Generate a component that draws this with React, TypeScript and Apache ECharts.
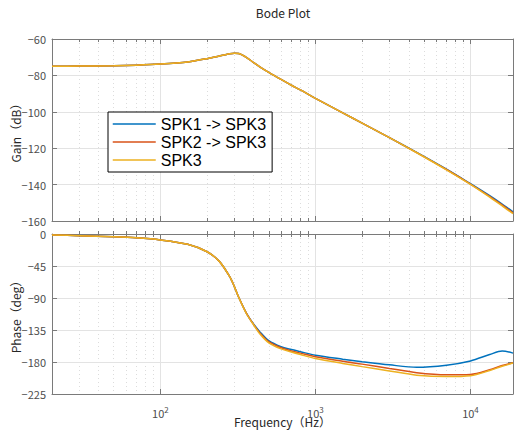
import React, { useEffect, useRef } from "react";
import * as echarts from "echarts";

const FONT = "'Noto Sans CJK JP', 'Noto Sans', sans-serif";
const LEGEND_FONT = "'Liberation Sans', Arial, sans-serif";

const freqs = [20, 30, 50, 70, 100, 150, 200, 240, 280, 300, 320, 360, 400, 440, 500, 600, 700, 800, 1000, 1500, 2000, 3000, 4500, 7000, 10000, 13300, 16000, 18800];

const gainSpk1 = [-75, -74.9, -74.7, -74.4, -73.8, -72.6, -70.8, -69.3, -68.1, -67.8, -68.0, -70.2, -73.0, -75.4, -78.3, -82.2, -85.4, -88.0, -92.6, -100.6, -106.2, -114.2, -122.3, -131.5, -139.5, -146.1, -150.7, -155.0];
const gainSpk2 = [-75, -74.9, -74.7, -74.4, -73.8, -72.6, -70.8, -69.3, -68.1, -67.8, -68.0, -70.2, -73.0, -75.4, -78.3, -82.2, -85.4, -88.0, -92.6, -100.6, -106.2, -114.2, -122.4, -131.7, -139.7, -146.5, -151.2, -155.5];
const gainSpk3 = [-75, -74.9, -74.7, -74.4, -73.8, -72.6, -70.8, -69.3, -68.1, -67.8, -68.0, -70.2, -73.0, -75.4, -78.3, -82.2, -85.4, -88.0, -92.6, -100.6, -106.2, -114.2, -122.5, -131.9, -139.9, -146.9, -151.7, -156.0];

const phaseSpk1 = [-1.5, -2.3, -3.8, -5.3, -8.3, -14.5, -25, -38.5, -60, -74, -89, -112, -127, -138, -150, -158.5, -162.5, -165.5, -170.5, -176, -179.5, -184, -187.5, -184.5, -178.5, -169.5, -164.5, -167.5];
const phaseSpk2 = [-1.5, -2.3, -3.8, -5.3, -8.3, -14.5, -25, -38.5, -60, -74, -89, -112, -127.5, -139.5, -151.5, -160, -164.5, -167.5, -172.5, -179, -183, -189, -195, -198, -197.5, -191, -185, -181];
const phaseSpk3 = [-1.5, -2.3, -3.8, -5.3, -8.3, -14.5, -25, -38.5, -60, -74, -89, -112.5, -128, -141, -153, -161.5, -166, -169.5, -175, -182, -186.5, -192.5, -198.5, -200.5, -199.3, -192, -186, -181.5];

const seriesNames = ["SPK1 -> SPK3", "SPK2 -> SPK3", "SPK3"];
const seriesColors = ["#0072BD", "#D95319", "#EDB120"];

const majorExponents = [2, 3, 4];
const minorFreqs = [30, 40, 50, 60, 70, 80, 90, 200, 300, 400, 500, 600, 700, 800, 900, 2000, 3000, 4000, 5000, 6000, 7000, 8000, 9000];

const X_MIN = Math.log10(20);
const X_MAX = Math.log10(18800);

const AXIS_COLOR = "#7a7a7a";
const LABEL_COLOR = "#4d4d4d";

function xAxesFor(gridIndex: number, withLabels: boolean) {
  const base = { type: "value", gridIndex, min: X_MIN, max: X_MAX, scale: true };
  const minorVals = minorFreqs.map((f) => Math.log10(f));
  return [
    {
      ...base,
      position: "bottom",
      axisLine: { show: true, onZero: false, lineStyle: { color: AXIS_COLOR, width: 1 } },
      axisTick: { show: true, inside: true, length: 5, customValues: majorExponents, lineStyle: { color: AXIS_COLOR } },
      axisLabel: withLabels
        ? {
            show: true,
            customValues: majorExponents,
            margin: 11,
            formatter: (v: number) => `{b|10}{s|${Math.round(v)}}`,
            rich: {
              b: { fontSize: 11, color: LABEL_COLOR, fontFamily: FONT },
              s: { fontSize: 8, color: LABEL_COLOR, fontFamily: FONT, padding: [0, 0, 8, 0] },
            },
          }
        : { show: false },
      splitLine: { show: true, lineStyle: { color: "#e3e3e3", width: 1, type: "solid" } },
      name: withLabels ? "Frequency（Hz）" : "",
      nameLocation: "middle",
      nameGap: 21,
      nameMoveOverlap: false,
      nameTextStyle: { fontSize: 12, color: "#262626", fontFamily: FONT },
      z: 1,
    },
    {
      ...base,
      position: "top",
      axisLine: { show: true, onZero: false, lineStyle: { color: AXIS_COLOR, width: 1 } },
      axisTick: { show: true, inside: true, length: 5, customValues: majorExponents, lineStyle: { color: AXIS_COLOR } },
      axisLabel: { show: false },
      splitLine: { show: false },
      z: 1,
    },
    {
      ...base,
      position: "bottom",
      axisLine: { show: false },
      axisTick: { show: true, inside: true, length: 3, customValues: minorVals, lineStyle: { color: AXIS_COLOR } },
      axisLabel: { show: false },
      splitLine: { show: true, lineStyle: { color: "#dcdcdc", width: 1, type: [1, 3] } },
      z: 0,
    },
    {
      ...base,
      position: "top",
      axisLine: { show: false },
      axisTick: { show: true, inside: true, length: 3, customValues: minorVals, lineStyle: { color: AXIS_COLOR } },
      axisLabel: { show: false },
      splitLine: { show: false },
      z: 0,
    },
  ];
}

function yAxesFor(gridIndex: number, min: number, max: number, interval: number, name: string) {
  return [
    {
      type: "value",
      gridIndex,
      min,
      max,
      interval,
      position: "left",
      axisLine: { show: true, onZero: false, lineStyle: { color: AXIS_COLOR, width: 1 } },
      axisTick: { show: true, inside: true, length: 5, lineStyle: { color: AXIS_COLOR } },
      axisLabel: {
        fontSize: 11,
        color: LABEL_COLOR,
        fontFamily: FONT,
        margin: 6,
        formatter: (v: number) => String(v).replace("-", "\u2212"),
      },
      splitLine: { show: true, lineStyle: { color: "#e3e3e3", width: 1 } },
      name,
      nameLocation: "middle",
      nameGap: 31,
      nameMoveOverlap: false,
      nameTextStyle: { fontSize: 12, color: "#262626", fontFamily: FONT },
      z: 1,
    },
    {
      type: "value",
      gridIndex,
      min,
      max,
      interval,
      position: "right",
      axisLine: { show: true, onZero: false, lineStyle: { color: AXIS_COLOR, width: 1 } },
      axisTick: { show: true, inside: true, length: 5, lineStyle: { color: AXIS_COLOR } },
      axisLabel: { show: false },
      splitLine: { show: false },
      z: 1,
    },
  ];
}

export default function App() {
  const ref = useRef<HTMLDivElement>(null);
  useEffect(() => {
    if (!ref.current) return;
    const chart = echarts.init(ref.current, null, { renderer: "svg" });
    const gains = [gainSpk1, gainSpk2, gainSpk3];
    const phases = [phaseSpk1, phaseSpk2, phaseSpk3];
    const mk = (vals: number[], idx: number, xAxisIndex: number, yAxisIndex: number) => ({
      type: "line",
      name: seriesNames[idx],
      xAxisIndex,
      yAxisIndex,
      data: freqs.map((f, i) => [Math.log10(f), vals[i]]),
      showSymbol: false,
      symbol: "none",
      smooth: 0.3,
      color: seriesColors[idx],
      lineStyle: { color: seriesColors[idx], width: 1.5 },
      z: 10,
    });
    const series: any[] = [];
    gains.forEach((g, i) => series.push(mk(g, i, 0, 0)));
    phases.forEach((p, i) => series.push(mk(p, i, 4, 2)));

    chart.setOption({
      animation: false,
      backgroundColor: "#ffffff",
      textStyle: { fontFamily: FONT },
      graphic: [
        {
          type: "text",
          x: 283,
          y: 6,
          style: { text: "Bode Plot", fontSize: 12, fill: "#262626", fontFamily: FONT, textAlign: "center" },
        },
      ],
      legend: {
        data: seriesNames,
        orient: "vertical",
        left: 108,
        top: 112,
        itemWidth: 43,
        itemHeight: 14,
        itemGap: 2,
        padding: [4, 6, 4, 4],
        backgroundColor: "#ffffff",
        borderColor: "#000000",
        borderWidth: 1,
        itemStyle: { opacity: 0 },
        lineStyle: { width: 1.5 },
        textStyle: { fontSize: 16, lineHeight: 16, color: "#000000", fontFamily: LEGEND_FONT },
        z: 20,
      },
      grid: [
        { left: 52, right: 1, top: 39, height: 182, containLabel: false, outerBoundsMode: "none" },
        { left: 52, right: 1, top: 234, height: 160, containLabel: false, outerBoundsMode: "none" },
      ],
      xAxis: [...xAxesFor(0, false), ...xAxesFor(1, true)],
      yAxis: [
        ...yAxesFor(0, -160, -60, 20, "Gain（dB）"),
        ...yAxesFor(1, -225, 0, 45, "Phase（deg）"),
      ],
      series,
    });
    return () => chart.dispose();
  }, []);
  return <div ref={ref} style={{ position: "absolute", left: 0, top: 0, width: 514, height: 430 }} />;
}
